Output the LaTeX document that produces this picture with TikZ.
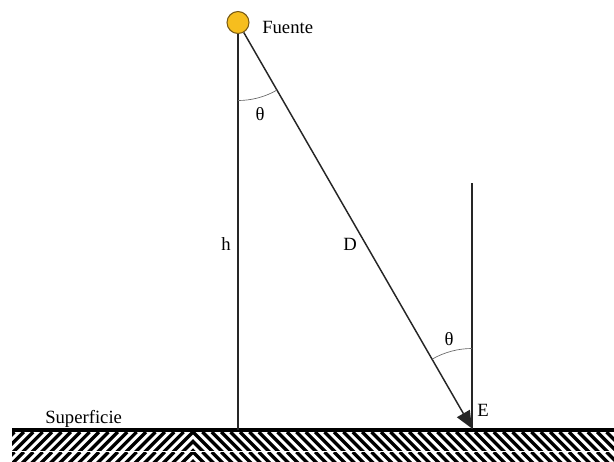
\documentclass[tikz,border=0pt]{standalone}
\usepackage{fontspec}
\setmainfont{Liberation Serif}
\usetikzlibrary{arrows.meta}
\definecolor{sun}{RGB}{246,190,30}
\definecolor{sunedge}{RGB}{120,90,20}
\begin{document}
\begin{tikzpicture}[x=0.75pt,y=-0.75pt,
  lbl/.style={font=\fontsize{14}{16}\selectfont, inner sep=0pt},
  ray/.style={line width=1.1pt, draw=black!85},
  vline/.style={line width=0.9pt, draw=black!85},
  anglearc/.style={line width=0.5pt, draw=black!60},
  hatch/.style={line width=2.5pt, draw=black},
  ground/.style={line width=2.3pt, draw=black}]
\useasboundingbox (0,0) rectangle (614,461);
% hatching
\foreach \ya/\hh in {432/18, 452/10}{
  \begin{scope}
    \clip (12,\ya) rectangle (193,\ya+\hh);
    \foreach \k in {-3,...,22} \draw[hatch] (193-\k*9.4,\ya) -- ++(-22,22);
  \end{scope}
  \begin{scope}
    \clip (193,\ya) rectangle (614,\ya+\hh);
    \foreach \k in {-3,...,46} \draw[hatch] (193+\k*9.4,\ya) -- ++(22,22);
  \end{scope}
}
\coordinate (GL) at (12,430);
\coordinate (GR) at (614,430);
\coordinate (G) at (238,430);
\coordinate (E) at (472,428.5);
\coordinate (Et) at (472,183);
\coordinate (S) at (238,22.5);
\node[circle, minimum size=16.5pt, inner sep=0pt, fill=sun, draw=sunedge, line width=0.8pt] (src) at (S) {};
\draw[ground] (GL) -- (GR);
\draw[vline] (src.south) -- (G);
\draw[vline] (Et) -- (E);
\draw[ray, -{Triangle[length=13pt,width=11pt]}] (src) -- (E);
\draw[anglearc] (S) ++(60:78) arc (60:90:78);
\draw[anglearc] (E) ++(240:80) arc (240:270:80);
\node[lbl, anchor=west] (fuente) at (262,27) {Fuente};
\node[lbl] (th1) at (260,114) {θ};
\node[lbl] (th2) at (449,339) {θ};
\node[lbl] (h) at (226,244) {h};
\node[lbl] (D) at (350,244) {D};
\node[lbl] (Elbl) at (483,410) {E};
\node[lbl, anchor=base west] (sup) at (45,423.5) {Superficie};
\end{tikzpicture}
\end{document}
